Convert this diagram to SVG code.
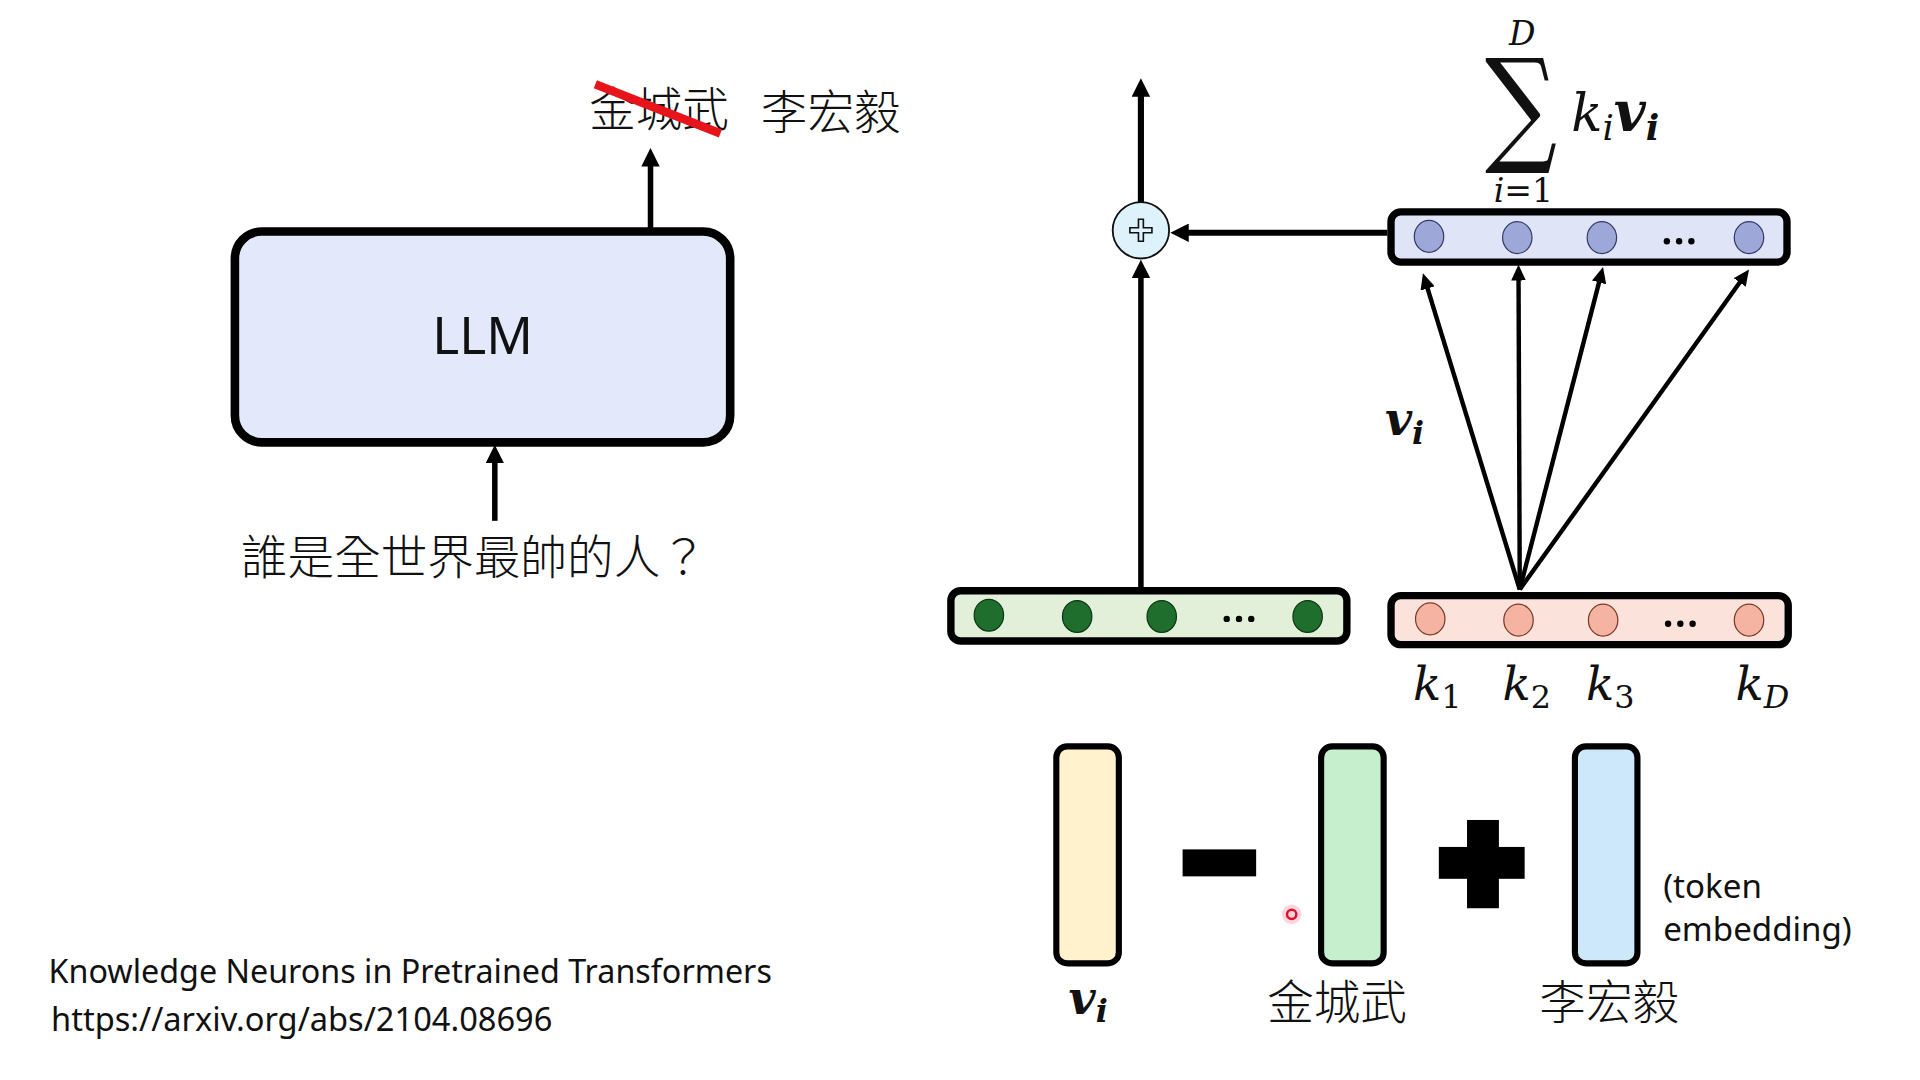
<svg xmlns="http://www.w3.org/2000/svg" width="1920" height="1080" viewBox="0 0 1920 1080">
<defs>
<style>
.sans{font-family:"Noto Sans","Liberation Sans",sans-serif;fill:#111}
.cjk{font-family:"Noto Sans CJK TC","Noto Sans CJK SC",sans-serif;font-weight:300;fill:#111}
.math{font-family:"DejaVu Serif","Liberation Serif",serif;font-style:italic;fill:#111}
.bar{stroke:#000;stroke-width:6}
.arr{stroke:#000;stroke-width:4.5;fill:none}
.fan{stroke:#000;stroke-width:3.6;fill:none}
.vec{stroke:#000;stroke-width:5}
.gd{fill:#1f6e2d;stroke:#0c3814;stroke-width:1}
.bd{fill:#9ea8d8;stroke:#343a68;stroke-width:1}
.pd{fill:#f5b4a2;stroke:#7a3a2a;stroke-width:1}
</style>
<marker id="ah" viewBox="0 0 15 15" refX="9" refY="7.5" markerWidth="15" markerHeight="15" markerUnits="userSpaceOnUse" orient="auto">
<path d="M0,0 L15,7.5 L0,15 z" fill="#000"/>
</marker>
<marker id="ahs" viewBox="0 0 13 12" refX="8" refY="6" markerWidth="13" markerHeight="12" markerUnits="userSpaceOnUse" orient="auto">
<path d="M0,0 L13,6 L0,12 z" fill="#000"/>
</marker>
</defs>
<rect width="1920" height="1080" fill="#fff"/>
<g transform="translate(-0.5,1) scale(1.226)">
<g id="connectors">
<line class="arr" x1="531" y1="186" x2="531" y2="126" marker-end="url(#ah)"/>
<line class="arr" x1="404" y1="424" x2="404" y2="368" marker-end="url(#ah)"/>
<line class="arr" x1="931" y1="164" x2="931" y2="69" marker-end="url(#ah)" style="stroke-width:5"/>
<line class="arr" x1="931" y1="478" x2="931" y2="217" marker-end="url(#ah)"/>
<line class="arr" x1="1132" y1="189" x2="961" y2="189" marker-end="url(#ah)" style="stroke-width:5"/>
<line class="fan" x1="1240" y1="480" x2="1162.5" y2="226.8" marker-end="url(#ahs)"/>
<line class="fan" x1="1240" y1="480" x2="1239" y2="220" marker-end="url(#ahs)"/>
<line class="fan" x1="1240" y1="480" x2="1306.7" y2="221.8" marker-end="url(#ahs)"/>
<line class="fan" x1="1240" y1="480" x2="1424.1" y2="223.1" marker-end="url(#ahs)"/>
</g>
<g id="llm">
<rect x="192" y="188" width="404" height="172" rx="22" fill="#e3e8fb" stroke="#000" stroke-width="7"/>
<text class="sans" x="394" y="288" font-size="42" text-anchor="middle">LLM</text>
</g>
<g id="output-tokens">
<text class="cjk" x="481" y="102" font-size="38">金城武</text>
<line x1="486" y1="68" x2="588" y2="108" stroke="#e8141c" stroke-width="7"/>
<text class="cjk" x="621" y="104" font-size="38">李宏毅</text>
</g>
<g id="question">
<text class="cjk" x="197" y="467" font-size="38">誰是全世界最帥的人？</text>
</g>
<g id="add">
<circle cx="931" cy="187" r="23" fill="#ddf2fb" stroke="#111" stroke-width="1.5"/>
<path d="M929,178 h4 v7 h7 v4 h-7 v7 h-4 v-7 h-7 v-4 h7 z" fill="#ddf2fb" stroke="#111" stroke-width="1.3"/>
</g>
<g id="hidden">
<rect class="bar" x="776" y="481" width="323" height="41" rx="8" fill="#e2f0d9"/>
<ellipse class="gd" cx="807" cy="501" rx="12" ry="13"/>
<ellipse class="gd" cx="879" cy="502" rx="12" ry="13"/>
<ellipse class="gd" cx="948" cy="502" rx="12" ry="13"/>
<ellipse class="gd" cx="1067" cy="502" rx="12" ry="13"/>
<circle cx="1001" cy="504" r="2.6" fill="#000"/><circle cx="1011" cy="504" r="2.6" fill="#000"/><circle cx="1021" cy="504" r="2.6" fill="#000"/>
</g>
<g id="values">
<rect class="bar" x="1135" y="172" width="323" height="41" rx="8" fill="#dfe4f7"/>
<ellipse class="bd" cx="1166" cy="192" rx="12" ry="13"/>
<ellipse class="bd" cx="1238" cy="193" rx="12" ry="13"/>
<ellipse class="bd" cx="1307" cy="193" rx="12" ry="13"/>
<ellipse class="bd" cx="1427" cy="193" rx="12" ry="13"/>
<circle cx="1360" cy="196" r="2.6" fill="#000"/><circle cx="1370" cy="196" r="2.6" fill="#000"/><circle cx="1380" cy="196" r="2.6" fill="#000"/>
</g>
<g id="keys">
<rect class="bar" x="1135" y="485" width="324" height="40" rx="8" fill="#fbe2db"/>
<ellipse class="pd" cx="1167" cy="504" rx="12" ry="13"/>
<ellipse class="pd" cx="1239" cy="505" rx="12" ry="13"/>
<ellipse class="pd" cx="1308" cy="505" rx="12" ry="13"/>
<ellipse class="pd" cx="1427" cy="505" rx="12" ry="13"/>
<circle cx="1361" cy="508" r="2.6" fill="#000"/><circle cx="1371" cy="508" r="2.6" fill="#000"/><circle cx="1381" cy="508" r="2.6" fill="#000"/>
</g>
<g id="key-labels">
<text class="math" x="1153" y="570" font-size="38">k<tspan font-style="normal" font-size="26" dy="7">1</tspan></text>
<text class="math" x="1226" y="570" font-size="38">k<tspan font-style="normal" font-size="26" dy="7">2</tspan></text>
<text class="math" x="1294" y="570" font-size="38">k<tspan font-style="normal" font-size="26" dy="7">3</tspan></text>
<text class="math" x="1416" y="570" font-size="38">k<tspan font-size="26" dy="7">D</tspan></text>
</g>
<g id="vi-label">
<text class="math" x="1130" y="354" font-size="38" font-weight="bold">v<tspan font-size="26" dy="7">i</tspan></text>
</g>
<g id="sum">
<text class="math" x="1242" y="36" font-size="27" text-anchor="middle">D</text>
<text transform="translate(1241,121) scale(0.8,1)" x="0" y="0" font-family="DejaVu Serif, serif" font-size="103" text-anchor="middle" fill="#111">∑</text>
<text class="math" x="1243" y="164" font-size="27" text-anchor="middle">i<tspan font-style="normal">=1</tspan></text>
<text class="math" x="1282" y="106" font-size="42">k<tspan font-size="29" dy="7">i</tspan><tspan font-weight="bold" font-size="45" dy="-7">v</tspan><tspan font-weight="bold" font-size="29" dy="7">i</tspan></text>
</g>
<g id="vec-vi">
<rect class="vec" x="862" y="608" width="51" height="177" rx="9" fill="#fff2cc"/>
<text class="math" x="872" y="826" font-size="38" font-weight="bold">v<tspan font-size="26" dy="7">i</tspan></text>
</g>
<g id="minus">
<rect x="965" y="692" width="60" height="22" fill="#000"/>
</g>
<g id="vec-jin">
<rect class="vec" x="1078" y="608" width="51" height="177" rx="9" fill="#c6efce"/>
<text class="cjk" x="1034" y="830" font-size="38">金城武</text>
</g>
<g id="plus">
<rect x="1174" y="690" width="70" height="26" fill="#000"/>
<rect x="1197" y="668" width="26" height="72" fill="#000"/>
</g>
<g id="vec-li">
<rect class="vec" x="1285" y="608" width="51" height="177" rx="9" fill="#cde8fb"/>
<text class="cjk" x="1256" y="830" font-size="38">李宏毅</text>
<text class="sans" x="1357" y="732" font-size="27">(token</text>
<text class="sans" x="1357" y="767" font-size="27">embedding)</text>
</g>
<g id="pointer">
<circle cx="1054" cy="745" r="8" fill="#ffb8c4" opacity="0.6"/>
<circle cx="1054" cy="745" r="3.8" fill="#ffd4da" stroke="#e0102a" stroke-width="2"/>
</g>
<g id="reference">
<text class="sans" x="40" y="801" font-size="27" textLength="590" lengthAdjust="spacingAndGlyphs">Knowledge Neurons in Pretrained Transformers</text>
<text class="sans" x="42" y="840" font-size="27" textLength="409" lengthAdjust="spacingAndGlyphs">https://arxiv.org/abs/2104.08696</text>
</g>
</g>
</svg>
